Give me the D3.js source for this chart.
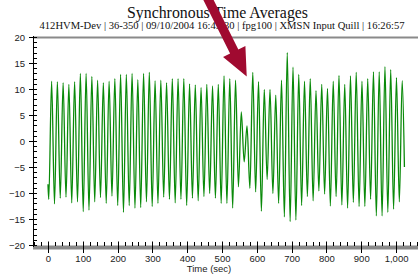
<!DOCTYPE html>
<html><head><meta charset="utf-8">
<script src="https://cdn.jsdelivr.net/npm/d3@7"></script>
<style>body{margin:0;background:#fff}svg{display:block}</style>
</head><body><svg id="c" width="418" height="275"></svg>
<script>
const title = "Synchronous Time Averages";
const subtitle = "412HVM-Dev | 36-350 | 09/10/2004 16:45:30 | fpg100 | XMSN Input Quill | 16:26:57";
const xLabel = "Time (sec)";
const xTicks = [0,100,200,300,400,500,600,700,800,900,1000];
const yTicks = [-20,-15,-10,-5,0,5,10,15,20];
const xMinorStep = 20, yMinorStep = 1;

// signal: start point, alternating trough/peak extremes, end point
const startPoint = {t:0, v:-8.3};
const endPoint = {t:1024, v:-5.0};
const firstTroughTime = 2.25;   // sec
const halfPeriod = 8.255;       // sec between trough and next peak
const troughs = [-11.2,
  -12.1,-11.0,-10.8,-11.9,-11.7,-13.6,-13.3,-11.7,-10.9,-12.0,-10.6,-12.4,-13.7,-12.4,-12.9,-12.8,-11.7,-12.6,-12.0,-10.8,-11.2,-11.9,-11.2,-12.4,
  -11.0,-11.5,
  -10.7,-10.1,-11.0,-12.0,-12.0,-12.9,-8.8,-4.0,-9.1,-9.8,-13.5,-7.4,-10.1,-12.0,-14.6,-15.5,-15.2,
  -12.4,-10.7,-11.5,-9.6,
  -10.2,-12.5,-10.7,-12.3,-12.9,-11.8,-12.6,-12.6,-11.2,-14.4,-14.4,-13.7,-13.1,-11.7];
const peaks = [11.5,11.4,11.2,10.9,11.4,13.0,13.0,12.4,11.7,11.2,11.5,12.0,12.8,12.8,13.0,11.8,13.0,13.2,11.6,11.7,11.2,12.0,12.0,12.0,
  11.0,10.8,
  10.3,10.9,10.6,10.9,12.5,12.0,11.7,5.6,2.9,13.2,11.4,9.9,9.9,8.8,11.7,17.0,14.2,12.8,
  11.5,12.0,9.7,
  10.9,10.1,11.5,12.6,10.9,12.5,13.2,11.5,12.0,13.3,13.3,14.3,13.7,12.2,11.6];

// annotation arrow tip (data coords)
const arrowTip = {t:571, v:12.4};

const series = [startPoint];
troughs.forEach((tv, i) => {
  series.push({t: firstTroughTime + 2*i*halfPeriod, v: tv});
  series.push({t: firstTroughTime + (2*i+1)*halfPeriod, v: peaks[i]});
});
series.push(endPoint);

const svg = d3.select("#c");
const x = d3.scaleLinear().domain([-43, 1063]).range([33, 418]);
const y = d3.scaleLinear().domain([-20, 20]).range([245, 37]);
const sans = "'Liberation Sans', Arial, sans-serif";
const serif = "'Liberation Serif', 'Times New Roman', serif";

// titles
svg.append("text").attr("x", 217.5).attr("y", 18).attr("text-anchor","middle")
  .attr("font-family", serif).attr("font-size", 16).attr("fill","#111")
  .attr("textLength", 181).attr("lengthAdjust","spacingAndGlyphs").text(title);
svg.append("text").attr("x", 222).attr("y", 29).attr("text-anchor","middle")
  .attr("font-family", serif).attr("font-size", 10).attr("fill","#111")
  .attr("textLength", 365).attr("lengthAdjust","spacingAndGlyphs").text(subtitle);

// top frame line
svg.append("line").attr("x1", 33).attr("x2", 418).attr("y1", y(20)+0.5).attr("y2", y(20)+0.5)
  .attr("stroke","#8a8a8a").attr("stroke-width",2);
// bottom gray band
svg.append("rect").attr("x", 33).attr("width", 385).attr("y", 245.5).attr("height", 4)
  .attr("fill","#8a8a8a");

// y axis
const yAxis = d3.axisLeft(y).tickValues(yTicks).tickSize(4).tickPadding(4);
const gy = svg.append("g").attr("transform","translate(33,0)").call(yAxis);
gy.select(".domain").remove();
gy.selectAll(".tick line").attr("x2", -4).attr("x1", 4).attr("stroke","#000");
gy.selectAll("text").attr("font-family", sans).attr("font-size", 9.5).attr("fill","#222");
svg.append("line").attr("x1", 33.5).attr("x2", 33.5).attr("y1", y(20)-1).attr("y2", 247)
  .attr("stroke","#000");
const yMinor = d3.range(-20, 20.001, yMinorStep).filter(v => !yTicks.includes(v));
svg.append("g").selectAll("line").data(yMinor).join("line")
  .attr("x1", 33.5).attr("x2", 37).attr("y1", d => Math.round(y(d))+0.5).attr("y2", d => Math.round(y(d))+0.5)
  .attr("stroke","#000");

// x axis
const xAxis = d3.axisBottom(x).tickValues(xTicks).tickSize(0).tickPadding(0);
const gx = svg.append("g").attr("transform","translate(0,262)").call(xAxis);
gx.select(".domain").remove();
gx.selectAll(".tick line").remove();
gx.selectAll("text").attr("font-family", sans).attr("font-size", 9.5).attr("fill","#222").attr("dy", 0).attr("y", 0);
svg.append("g").selectAll("line").data(xTicks).join("line")
  .attr("x1", d => Math.round(x(d))+0.5).attr("x2", d => Math.round(x(d))+0.5)
  .attr("y1", 241.5).attr("y2", 253).attr("stroke","#000");
const xMinor = d3.range(-40, 1061, xMinorStep).filter(v => !xTicks.includes(v));
svg.append("g").selectAll("line").data(xMinor).join("line")
  .attr("x1", d => Math.round(x(d))+0.5).attr("x2", d => Math.round(x(d))+0.5)
  .attr("y1", 242).attr("y2", 246).attr("stroke","#000");
svg.append("text").attr("x", 209).attr("y", 272).attr("text-anchor","middle")
  .attr("font-family", sans).attr("font-size", 9.5).attr("fill","#222").text(xLabel);

// signal line
const line = d3.line().x(d => x(d.t)).y(d => y(d.v)).curve(d3.curveMonotoneX);
svg.append("path").datum(series).attr("d", line)
  .attr("fill","none").attr("stroke","#0a8a0a").attr("stroke-width",1.3).attr("stroke-linejoin","round");

// arrow annotation
const tip = [x(arrowTip.t), y(arrowTip.v)];
const tail = [207, -3];
const dx = tail[0]-tip[0], dy = tail[1]-tip[1], L = Math.hypot(dx, dy);
const u = [dx/L, dy/L], n = [-u[1], u[0]];
const headLen = 28, headHalf = 12.5, shaftHalf = 4.6;
const base = [tip[0]+u[0]*headLen, tip[1]+u[1]*headLen];
const P = (p, k, m) => [p[0]+n[0]*k+u[0]*m, p[1]+n[1]*k+u[1]*m];
const pts = [tip, P(base, headHalf, 0), P(base, shaftHalf, 0), P(tail, shaftHalf, 0),
             P(tail, -shaftHalf, 0), P(base, -shaftHalf, 0), P(base, -headHalf, 0)];
svg.append("path").attr("d", "M" + pts.map(p => p.join(",")).join("L") + "Z")
  .attr("fill","#a00a30");
</script></body></html>
